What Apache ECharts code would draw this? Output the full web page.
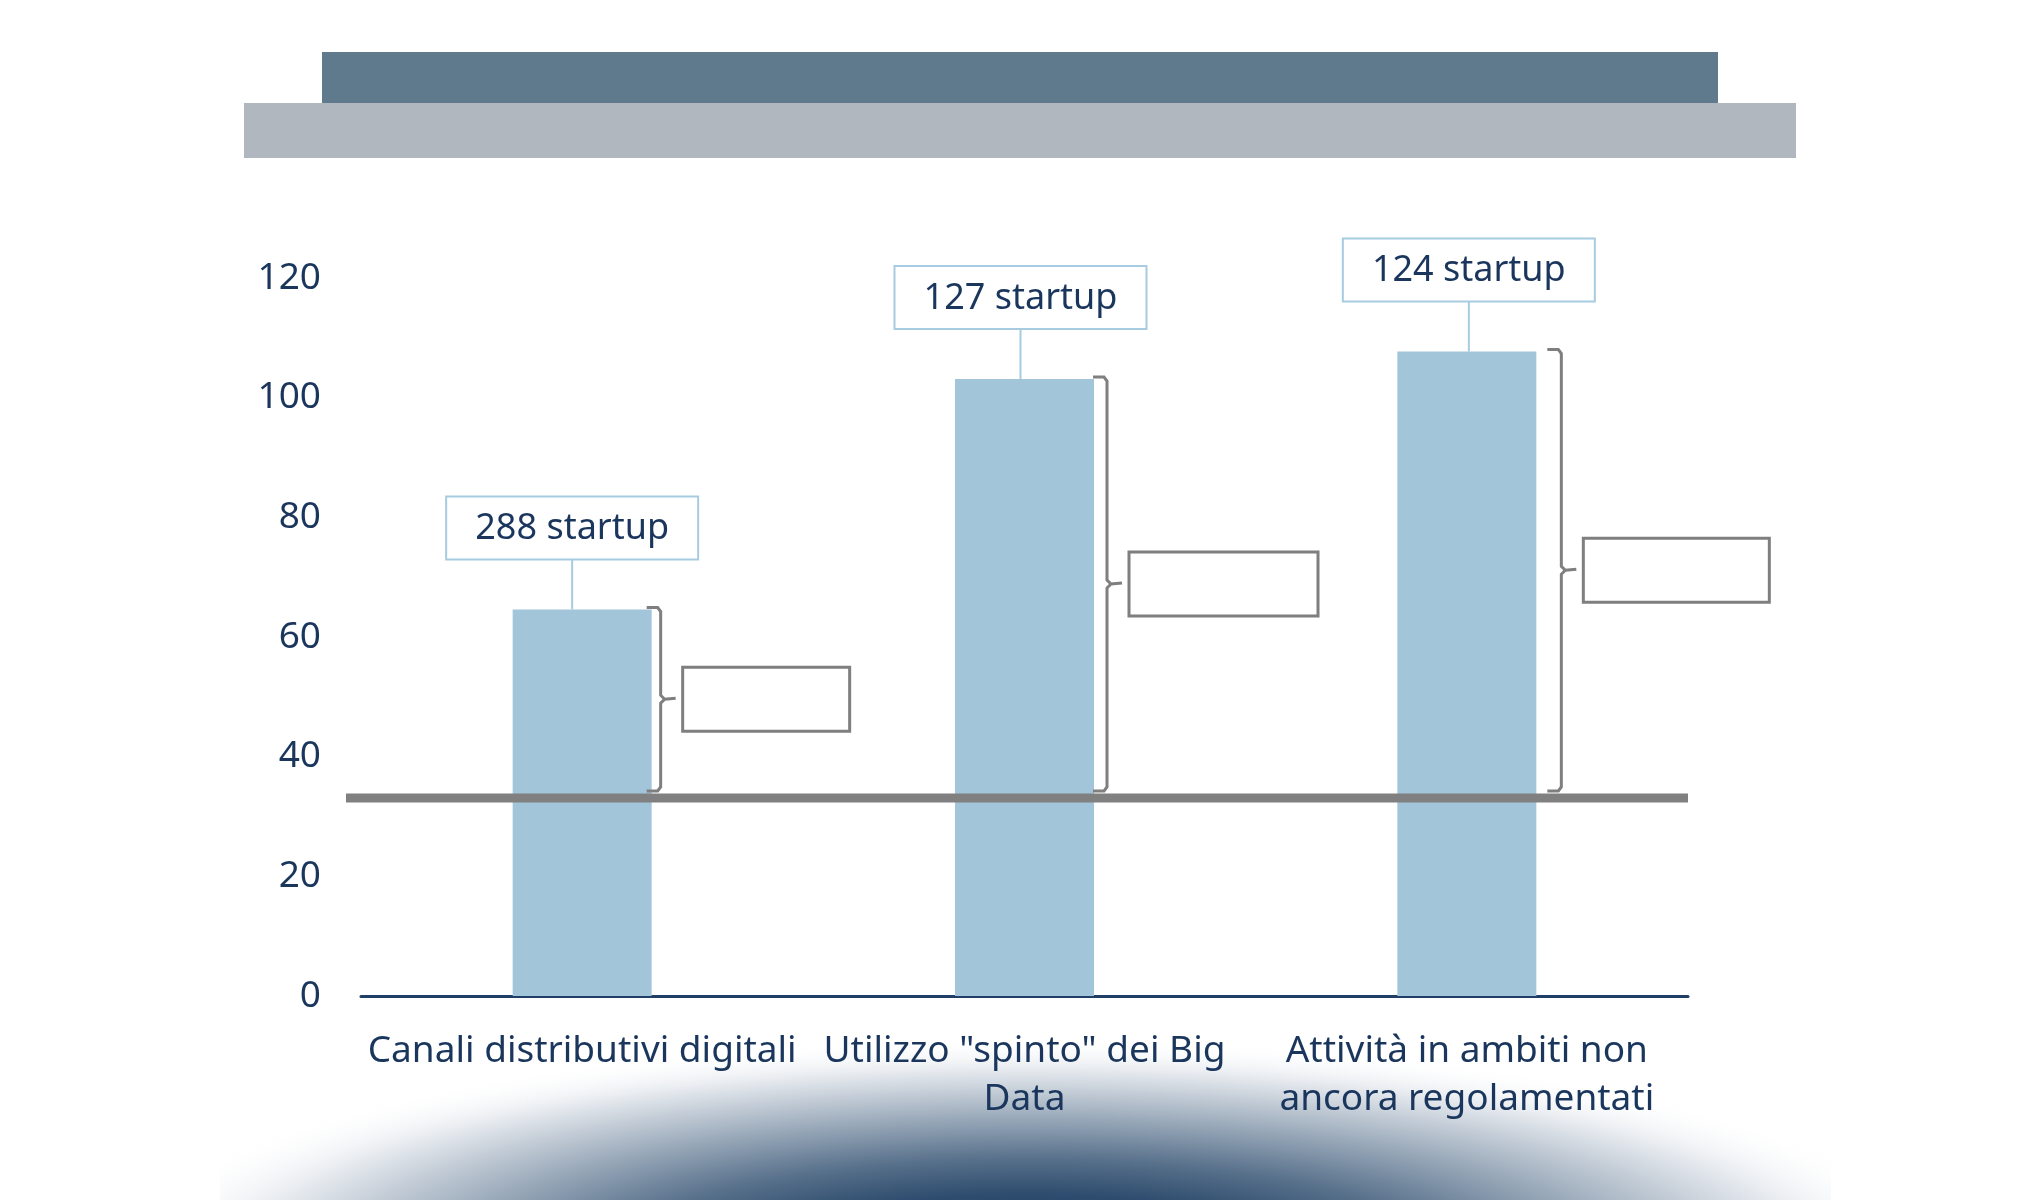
<!DOCTYPE html>
<html>
<head>
<meta charset="UTF-8">
<title>Startup</title>
<script src="https://cdn.jsdelivr.net/npm/echarts@6/dist/echarts.min.js"></script>
<style>
  html, body { margin: 0; padding: 0; background: #ffffff; }
  #main { width: 2040px; height: 1200px; }
</style>
</head>
<body>
<div id="main"></div>
<script>
// dati
var categories = ['Canali distributivi digitali', 'Utilizzo "spinto" dei Big\nData', 'Attività in ambiti non\nancora regolamentati'];
var values = [64.6, 103.1, 107.7];
var startupCounts = [288, 127, 124];
var baseLine = 33.1;
var yTicks = { min: 0, max: 120, interval: 20 };

// impaginazione delle annotazioni (spostamenti in px)
var boxShift = [-10, -4, 2];
var bracketShift = [0, 4, 16];
var noteWidth = [167, 189, 186];

var navy = '#1b365d';
var font = '"Noto Sans", "Open Sans", sans-serif';
var barWidth = 139;
var gridLeft = 361, gridRight = 352;

var chart = echarts.init(document.getElementById('main'));

chart.setOption({
  animation: false,
  grid: { left: gridLeft, right: gridRight, top: 278, bottom: 204 },
  xAxis: {
    type: 'category',
    data: categories,
    axisLine: { lineStyle: { color: '#1f3f66', width: 3 } },
    axisTick: { show: false },
    axisLabel: {
      interval: 0,
      margin: 31,
      color: navy,
      fontSize: 37,
      lineHeight: 48,
      fontFamily: font
    }
  },
  yAxis: {
    type: 'value',
    min: yTicks.min,
    max: yTicks.max,
    interval: yTicks.interval,
    splitLine: { show: false },
    axisLine: { show: false },
    axisTick: { show: false },
    axisLabel: { margin: 40, color: navy, fontSize: 37, fontFamily: font }
  },
  series: [{
    type: 'bar',
    data: values,
    barWidth: barWidth,
    itemStyle: { color: '#a3c5d9' }
  }]
});

function buildGraphics() {
  var els = [];

  // fasce del titolo
  els.push({ type: 'rect', z: 5, shape: { x: 322, y: 52, width: 1396, height: 52 }, style: { fill: '#5e7a8c' } });
  els.push({ type: 'rect', z: 5, shape: { x: 244, y: 103, width: 1552, height: 55 }, style: { fill: '#b0b7be' } });

  // sfumatura in basso, tagliata ai lati
  els.push({
    type: 'circle', z: -10, x: 1027, y: 1262, scaleY: 0.245,
    shape: { cx: 0, cy: 0, r: 920 },
    style: {
      fill: new echarts.graphic.RadialGradient(0.5, 0.5, 0.5, [
        { offset: 0, color: '#15355a' },
        { offset: 0.3, color: '#2e4c6e' },
        { offset: 0.45, color: '#556e89' },
        { offset: 0.65, color: '#9dacbc' },
        { offset: 0.85, color: '#e5e9ee' },
        { offset: 1, color: 'rgba(255,255,255,0)' }
      ])
    }
  });
  els.push({ type: 'rect', z: -5, shape: { x: 0, y: 1000, width: 220, height: 200 }, style: { fill: '#ffffff' } });
  els.push({ type: 'rect', z: -5, shape: { x: 1831, y: 1000, width: 209, height: 200 }, style: { fill: '#ffffff' } });

  var basePx = chart.convertToPixel({ seriesIndex: 0 }, [0, baseLine])[1];

  // linea grigia orizzontale
  els.push({
    type: 'line', z: 8,
    shape: { x1: gridLeft - 15, y1: basePx, x2: 2040 - gridRight, y2: basePx },
    style: { stroke: '#808080', lineWidth: 9 }
  });

  for (var i = 0; i < values.length; i++) {
    var p = chart.convertToPixel({ seriesIndex: 0 }, [i, values[i]]);
    var cx = p[0], top = p[1];
    var right = cx + barWidth / 2;

    // riquadro con numero di startup
    var boxW = 252, boxH = 63;
    var boxCx = cx + boxShift[i];
    var boxBottom = top - 50;
    els.push({
      type: 'line', z: 10,
      shape: { x1: boxCx, y1: boxBottom, x2: boxCx, y2: top },
      style: { stroke: '#a7cbe0', lineWidth: 2 }
    });
    els.push({
      type: 'rect', z: 10,
      shape: { x: boxCx - boxW / 2, y: boxBottom - boxH, width: boxW, height: boxH },
      style: { fill: '#ffffff', stroke: '#a7cbe0', lineWidth: 2 }
    });
    els.push({
      type: 'text', z: 11,
      style: {
        text: startupCounts[i] + ' startup',
        x: boxCx, y: boxBottom - boxH / 2 + 1,
        align: 'center', verticalAlign: 'middle',
        fontSize: 36, fontFamily: font, fill: navy
      }
    });

    // parentesi a destra della barra
    var s = bracketShift[i];
    var bTop = top - 2, bBot = basePx - 7;
    var mid = (bTop + bBot) / 2;
    var x0 = right - 5 + s, x1 = right + 9 + s, x2 = right + 24 + s;
    els.push({
      type: 'polyline', z: 10,
      shape: {
        points: [
          [x0, bTop], [x1 - 3, bTop], [x1, bTop + 4],
          [x1, mid - 4], [x1 + 4, mid], [x2, mid - 1], [x1 + 4, mid],
          [x1, mid + 4], [x1, bBot - 4], [x1 - 3, bBot], [x0, bBot]
        ]
      },
      style: { stroke: '#7f7f7f', lineWidth: 3, fill: null }
    });

    // riquadro vuoto
    els.push({
      type: 'rect', z: 10,
      shape: { x: right + 31 + s, y: mid - 32, width: noteWidth[i], height: 64 },
      style: { fill: '#ffffff', stroke: '#7f7f7f', lineWidth: 3 }
    });
  }
  return els;
}

chart.setOption({ graphic: buildGraphics() });
</script>
</body>
</html>
